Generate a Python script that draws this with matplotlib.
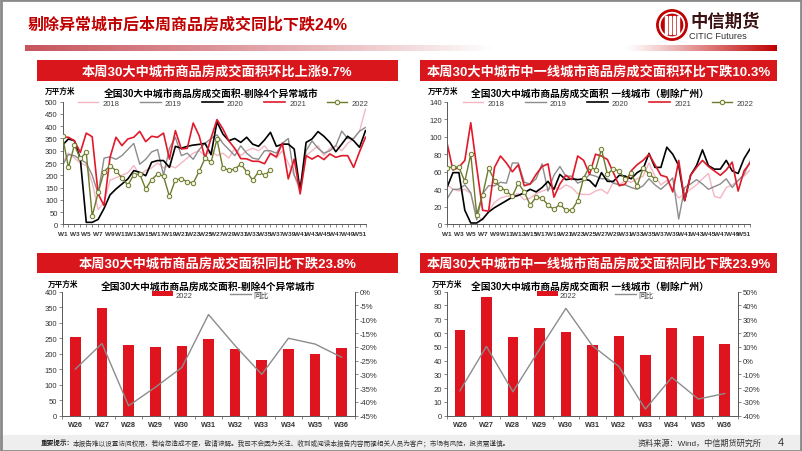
import numpy as np
import matplotlib
matplotlib.use("Agg")
import matplotlib.pyplot as plt
from matplotlib.patches import Rectangle, Circle
from matplotlib.ticker import FuncFormatter
from matplotlib import font_manager

plt.rcParams["font.family"] = ["Liberation Sans", "Noto Sans CJK SC", "DejaVu Sans"]
plt.rcParams["axes.unicode_minus"] = False

# ---------------- data ----------------
weeks = [f"W{i}" for i in range(1, 53)]
years = ["2018", "2019", "2020", "2021", "2022"]

# 30 large/medium cities excluding 4 abnormal cities (万平方米)
a_2018 = [250, 290, 270, 250, 240, 170, 60, 90, 180, 190, 200, 210, 240, 200, 220, 230, 250, 230, 240, 230,
          250, 270, 290, 300, 280, 300, 280, 290, 270, 310, 280, 300, 310, 300, 320, 290, 270, 300, 250, 200,
          130, 280, 300, 320, 280, 310, 320, 300, 330, 350, 380, 470]
a_2019 = [240, 285, 280, 265, 250, 200, 125, 270, 275, 265, 280, 305, 330, 245, 265, 295, 305, 200, 310, 355,
          280, 290, 265, 305, 330, 350, 365, 330, 305, 280, 320, 290, 270, 265, 300, 300, 290, 330, 350, 200,
          150, 300, 340, 310, 290, 300, 320, 380, 350, 350, 380, 395]
a_2020 = [323, 348, 341, 266, 8, 8, 20, 65, 120, 144, 164, 185, 219, 212, 198, 253, 260, 260, 232, 318,
          310, 318, 323, 326, 330, 284, 418, 368, 341, 350, 334, 355, 327, 318, 344, 375, 318, 327, 327, 307,
          137, 334, 348, 378, 359, 334, 296, 327, 359, 341, 314, 382]
a_2021 = [355, 355, 341, 293, 372, 357, 124, 76, 273, 355, 321, 348, 355, 379, 337, 359, 355, 372, 266, 382,
          307, 310, 413, 361, 269, 351, 427, 389, 340, 309, 268, 267, 257, 257, 247, 289, 275, 331, 185, 266,
          124, 280, 266, 280, 264, 287, 273, 280, 280, 232, 296, 355]
a_2022 = [359, 232, 323, 269, 293, 33, 130, 215, 239, 219, 189, 160, 202, 205, 144, 182, 205, 196, 114, 182,
          185, 174, 168, 216, 270, 253, 347, 228, 222, 224, 246, 215, 180, 214, 200, 220]

# first-tier cities excluding Guangzhou (万平方米)
b_2018 = [45, 40, 38, 40, 35, 10, 5, 15, 25, 30, 32, 33, 35, 28, 30, 35, 38, 40, 42, 40,
          45, 42, 35, 34, 34, 38, 40, 35, 48, 45, 50, 48, 52, 55, 70, 55, 45, 50, 40, 30,
          35, 40, 45, 52, 58, 32, 30, 42, 45, 50, 55, 62]
b_2019 = [29, 40, 40, 45, 36, 5, 35, 44, 44, 48, 47, 70, 70, 48, 46, 52, 69, 38, 56, 66,
          55, 55, 47, 50, 57, 55, 52, 52, 47, 45, 45, 42, 40, 44, 52, 45, 40, 46, 53, 6,
          42, 46, 51, 46, 40, 43, 46, 52, 42, 50, 57, 72]
b_2020 = [42, 59, 59, 16, 1.5, 1.5, 6, 14, 19, 23, 27, 31, 33, 36, 40, 37, 42, 49, 40, 57,
          51, 52, 51, 52, 50, 43, 59, 49, 49, 56, 55, 52, 59, 63, 81, 65, 65, 88, 80, 67,
          27, 56, 67, 85, 67, 63, 63, 73, 61, 58, 75, 86]
b_2021 = [93, 62, 65, 73, 116, 65, 16, 15, 65, 78, 70, 60, 68, 44, 46, 57, 66, 69, 31, 46,
          56, 51, 78, 73, 57, 80, 78, 74, 59, 44, 46, 61, 68, 73, 80, 68, 56, 54, 37, 73,
          27, 56, 65, 73, 66, 61, 56, 62, 71, 38, 61, 70]
b_2022 = [64, 66, 65, 49, 80, 11, 34, 64, 50, 42, 38, 32, 47, 37, 22, 31, 30, 22, 17, 23,
          16, 16, 27, 53, 66, 62.4, 85.9, 57.1, 63.4, 60.5, 51.3, 58.1, 43.8, 63.9, 57.8, 51.8]

bar_weeks = ["W26", "W27", "W28", "W29", "W30", "W31", "W32", "W33", "W34", "W35", "W36"]
a_bar_2022 = [253, 347, 228, 222, 224, 246, 215, 180, 214, 200, 220]
a_yoy = [-28.1, -18.8, -41.4, -34.7, -27.5, -8.3, -19.6, -30.0, -16.9, -19.0, -23.8]
b_bar_2022 = [62.4, 85.9, 57.1, 63.4, 60.5, 51.3, 58.1, 43.8, 63.9, 57.8, 51.8]
b_yoy = [-21.9, 10.3, -22.6, 8.0, 37.9, 10.8, -4.2, -35.2, -12.2, -27.9, -23.9]

headline = "剔除异常城市后本周商品房成交同比下跌24%"
head_tl = "本周30大中城市商品房成交面积环比上涨9.7%"
head_tr = "本周30大中城市中一线城市商品房成交面积环比下跌10.3%"
head_bl = "本周30大中城市商品房成交面积同比下跌23.8%"
head_br = "本周30大中城市中一线城市商品房成交面积同比下跌23.9%"
title_a = "全国30大中城市商品房成交面积-剔除4个异常城市"
title_b = "全国30大中城市商品房成交面积 一线城市（剔除广州）"
unit = "万平方米"
notice_bold = "重要提示："
notice = "本报告难以设置访问权限，若给您造成不便，敬请谅解。我司不会因为关注、收到或阅读本报告内容而视相关人员为客户；市场有风险，投资需谨慎。"
source = "资料来源：Wind，中信期货研究所"

# ---------------- styling ----------------
W, H = 802, 452
RED = "#D9161C"
COLORS = ["#F4B6C2", "#8C8C8C", "#000000", "#E01A2B", "#6B7B2B"]
LWS = [1.0, 1.0, 1.2, 1.2, 1.0]
TXT = "#333333"

_names = {f.name for f in font_manager.fontManager.ttflist}
NARROW = ["Liberation Sans Narrow"] if "Liberation Sans Narrow" in _names else ["Liberation Sans"]

fig = plt.figure(figsize=(W / 100, H / 100), dpi=100)
fig.patch.set_facecolor("white")


def fx(x):
    return x / W


def fy(y):
    return 1 - y / H


def add_ax(x0, y0, x1, y1, **kw):
    return fig.add_axes([x0 / W, 1 - y1 / H, (x1 - x0) / W, (y1 - y0) / H], **kw)


def rect(x0, y0, x1, y1, color, z=0):
    fig.patches.append(Rectangle((fx(x0), fy(y1)), (x1 - x0) / W, (y1 - y0) / H,
                                 transform=fig.transFigure, facecolor=color, edgecolor="none", zorder=z))


# outer frame and footer band
rect(0, 436, W, 451, "#EEEEEE")
fig.patches.append(Rectangle((0.001, 0.001), 0.998, 0.997, transform=fig.transFigure, fill=False,
                             edgecolor="#8A8A8A", lw=2.0, zorder=5))

# headline
fig.text(fx(28), fy(25), headline, color="#C00000", fontsize=11.5, fontweight="bold", ha="left", va="center")

# gradient bar
ax_g = add_ax(25, 46, 777, 52)
t = np.linspace(0, 1, 600)
wl = np.clip(1 - t / 0.62, 0, 1) ** 0.9
wr = np.clip((t - 0.80) / 0.20, 0, 1) ** 1.1
c1 = np.array([0.78, 0.33, 0.36])
c2 = np.array([0.75, 0.0, 0.0])
white = np.ones(3)
col = white[None, :] * (1 - wl[:, None]) + c1[None, :] * wl[:, None]
col = col * (1 - wr[:, None]) + c2[None, :] * wr[:, None]
ax_g.imshow(col[None, :, :], aspect="auto", extent=(0, 1, 0, 1))
ax_g.set_axis_off()

# logo
ax_l = add_ax(656, 10, 688, 42)
ax_l.set_xlim(-1.05, 1.05)
ax_l.set_ylim(-1.05, 1.05)
ax_l.set_aspect("equal")
ax_l.add_patch(Circle((0, 0), 1.0, color="#C00000"))
ax_l.add_patch(Circle((0, 0), 0.82, color="white"))
ax_l.add_patch(Circle((0, 0), 0.70, color="#C00000"))
for xb in (-0.42, -0.14, 0.14, 0.42):
    ax_l.add_patch(Rectangle((xb - 0.06, -0.62), 0.12, 1.24, color="white"))
ax_l.set_axis_off()
fig.text(fx(690), fy(21), "中信期货", color="#3A1212", fontsize=12.5, fontweight="bold", ha="left", va="center")
fig.text(fx(689), fy(36.5), "CITIC Futures", color="#333333", fontsize=6.6, ha="left", va="center")

# header boxes
def header(x0, x1, y0, y1, text):
    rect(x0, y0, x1, y1, RED, z=1)
    fig.text(fx((x0 + x1) / 2), fy((y0 + y1) / 2 + 0.5), text, color="white", fontsize=9.5,
             fontweight="bold", ha="center", va="center", zorder=2)


header(37, 398, 61, 82, head_tl)
header(420, 777, 61, 82, head_tr)
header(37, 398, 254, 274, head_bl)
header(420, 777, 254, 274, head_br)


def style_axis(ax, right=False):
    for s in ["top", "right", "left", "bottom"]:
        ax.spines[s].set_visible(False)
    ax.spines["left"].set_visible(True)
    ax.spines["bottom"].set_visible(True)
    if right:
        ax.spines["right"].set_visible(True)
    for s in ax.spines.values():
        s.set_color("#595959")
        s.set_linewidth(0.7)
    ax.tick_params(axis="both", which="both", direction="out", length=2, width=0.5,
                   colors="#595959", labelcolor=TXT, labelsize=5.5, pad=1.5)
    ax.set_facecolor("none")


def line_panel(x0, x1, series, ymax, ystep, title, title_cx, leg_cx, unit_cx):
    ax = add_ax(x0, 102.7, x1, 225.3)
    for name, vals, c, lw in zip(years, series, COLORS, LWS):
        xs = np.arange(len(vals))
        if name == "2022":
            ax.plot(xs, vals, color=c, lw=lw, marker="o", ms=3.2, mfc="#F4F4E4", mec=c, mew=0.7,
                    label=name, zorder=5)
        else:
            ax.plot(xs, vals, color=c, lw=lw, label=name)
    ax.set_xlim(0, 51)
    ax.set_ylim(0, ymax)
    ax.set_yticks(np.arange(0, ymax + 0.1, ystep))
    ax.set_xticks(np.arange(0, 52, 2))
    ax.set_xticklabels(weeks[::2], family=NARROW, fontweight="bold")
    ax.set_xticks(np.arange(52), minor=True)
    style_axis(ax)
    ax.tick_params(axis="x", labelsize=4.6, pad=3)
    leg = ax.legend(ncol=5, loc="center", bbox_to_anchor=(fx(leg_cx), fy(104.3)),
                    bbox_transform=fig.transFigure, frameon=False, fontsize=5.5,
                    handlelength=2.7, handletextpad=0.55, columnspacing=2.7, numpoints=1,
                    borderpad=0, borderaxespad=0)
    for tx in leg.get_texts():
        tx.set_color("#404040")
    fig.text(fx(title_cx), fy(94), title, fontsize=7, fontweight="bold", ha="center", va="center")
    fig.text(fx(unit_cx), fy(92.3), unit, fontsize=5.5, fontweight="bold", ha="center", va="center")
    return ax


line_panel(62.5, 365.5, [a_2018, a_2019, a_2020, a_2021, a_2022], 500, 50, title_a, 211, 223, 60)
line_panel(447, 750, [b_2018, b_2019, b_2020, b_2021, b_2022], 140, 20, title_b, 590, 608, 443)


def bar_panel(x0, x1, bars, yoy, lmax, lstep, rmin, rmax, rstep, title, title_cx, leg_cx, unit_cx):
    ax = add_ax(x0, 292.7, x1, 416.7)
    xs = np.arange(len(bar_weeks))
    ax.bar(xs, bars, width=0.4, color="#E0141E", label="2022", zorder=2)
    ax.set_xlim(-0.5, len(bar_weeks) - 0.5)
    ax.set_ylim(0, lmax)
    ax.set_yticks(np.arange(0, lmax + 0.1, lstep))
    ax.set_xticks(xs)
    ax.set_xticklabels(bar_weeks, family=NARROW, fontweight="bold")
    style_axis(ax, right=True)
    ax.tick_params(axis="x", which="major", length=0, labelsize=5.2, pad=4)
    ax.set_xticks(np.arange(-0.5, len(bar_weeks)), minor=True)
    ax.tick_params(axis="x", which="minor", length=2)
    ax2 = ax.twinx()
    ax2.plot(xs, yoy, color="#8C8C8C", lw=1.0, label="同比", zorder=3)
    ax2.set_ylim(rmin, rmax)
    ax2.set_yticks(np.arange(rmin, rmax + 0.1, rstep))
    ax2.yaxis.set_major_formatter(FuncFormatter(lambda v, p: f"{v:.0f}%"))
    style_axis(ax2, right=True)
    ax2.spines["left"].set_visible(False)
    ax2.spines["bottom"].set_visible(False)
    h1, l1 = ax.get_legend_handles_labels()
    h2, l2 = ax2.get_legend_handles_labels()
    leg = ax2.legend(h1 + h2, l1 + l2, ncol=2, loc="center", bbox_to_anchor=(fx(leg_cx), fy(296)),
                     bbox_transform=fig.transFigure, frameon=False, fontsize=5.5,
                     handlelength=2.7, handleheight=0.6, handletextpad=0.3, columnspacing=5.0,
                     borderpad=0, borderaxespad=0)
    for tx in leg.get_texts():
        tx.set_color("#404040")
    fig.text(fx(title_cx), fy(286.7), title, fontsize=7, fontweight="bold", ha="center", va="center")
    fig.text(fx(unit_cx), fy(285), unit, fontsize=5.5, fontweight="bold", ha="center", va="center")


bar_panel(62, 355, a_bar_2022, a_yoy, 400, 50, -45, 0, 5, title_a, 208, 210.5, 63)
bar_panel(446.7, 738, b_bar_2022, b_yoy, 90, 10, -40, 50, 10, title_b, 590, 595, 447)

# footer
fig.text(fx(41), fy(443.5), notice_bold, fontsize=4.8, fontweight="bold", color="#222222", ha="left", va="center")
fig.text(fx(73), fy(443.5), notice, fontsize=4.8, color="#333333", ha="left", va="center")
fig.text(fx(762), fy(443.5), source, fontsize=5.9, color="#333333", ha="right", va="center")
fig.text(fx(781), fy(443.5), "4", fontsize=8, color="#333333", ha="center", va="center")

fig.savefig("out.png", dpi=100)
